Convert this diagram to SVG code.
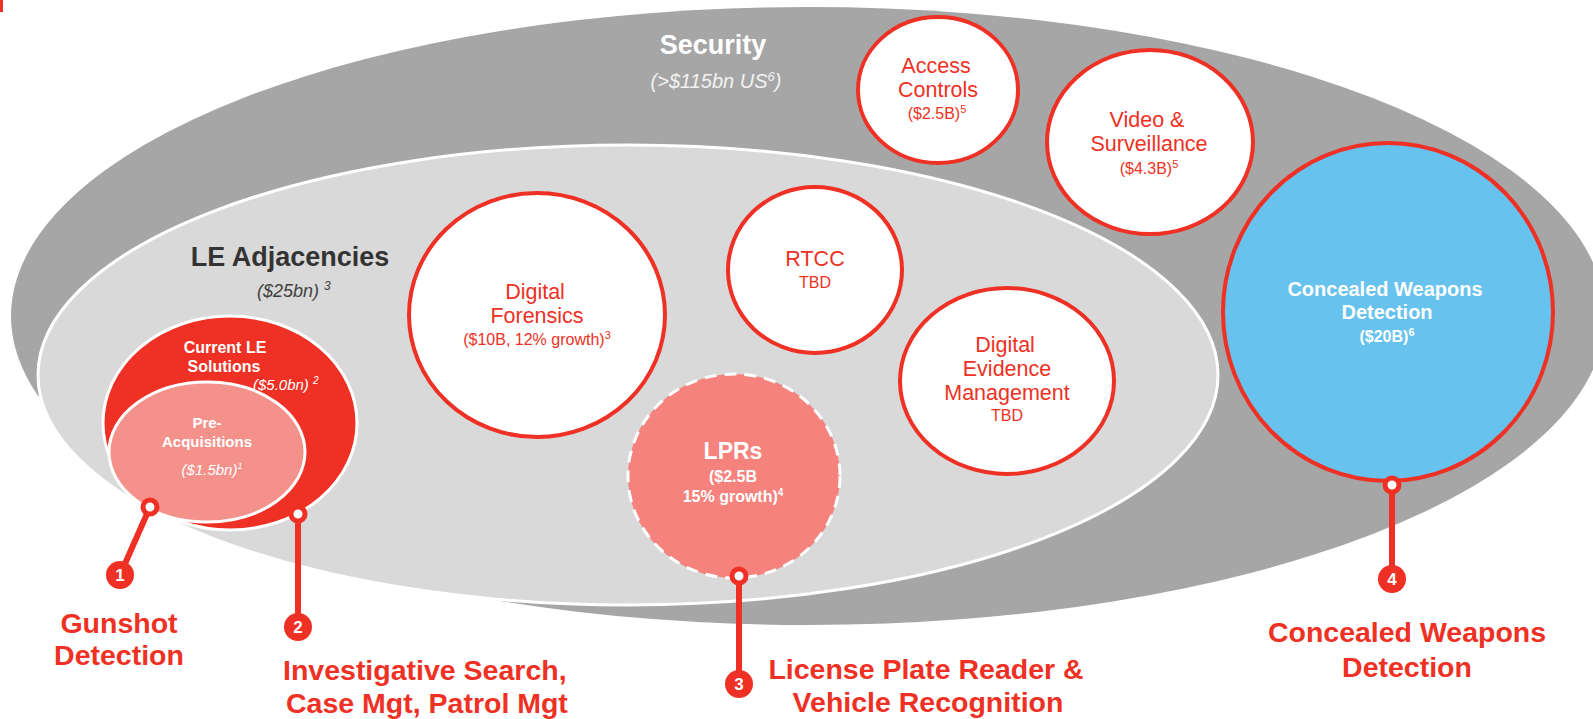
<svg xmlns="http://www.w3.org/2000/svg" width="1593" height="719" viewBox="0 0 1593 719">
<style>
  text { font-family: "Liberation Sans", Arial, sans-serif; }
  .red { fill: #ee3124; }
  .wc { fill: #ffffff; stroke: #ee3124; stroke-width: 4; }
  .big { font-size: 21.5px; fill: #ee3124; text-anchor: middle; }
  .sub { font-size: 16px; fill: #ee3124; text-anchor: middle; }
  .wb { fill: #ffffff; font-weight: bold; text-anchor: middle; }
  .wi { fill: #ffffff; font-style: italic; }
  .lbl { font-size: 28.5px; font-weight: bold; fill: #ee3124; }
  .num { font-size: 17px; font-weight: bold; fill: #ffffff; text-anchor: middle; }
  .ring { fill: #ffffff; stroke: #ee3124; stroke-width: 5; }
  .conn { stroke: #ee3124; stroke-width: 6; fill: none; }
</style>
<rect x="0" y="0" width="1593" height="719" fill="#ffffff"/>
<rect x="0" y="0" width="3" height="12" fill="#ee3124"/>

<g id="security">
  <ellipse cx="808" cy="316" rx="797" ry="309" fill="#a6a6a6"/>
  <text x="713" y="54" text-anchor="middle" font-size="27" font-weight="bold" fill="#ffffff">Security</text>
  <text x="716" y="88" text-anchor="middle" font-size="20" font-style="italic" fill="#f2f2f2">(&gt;$115bn US<tspan font-size="13" dy="-7">6</tspan><tspan dy="7">)</tspan></text>
</g>

<g id="le-adjacencies">
  <ellipse cx="628" cy="375" rx="590" ry="230" fill="#d9d9d9" stroke="#ffffff" stroke-width="3"/>
  <text x="290" y="266" text-anchor="middle" font-size="27" font-weight="bold" fill="#333333">LE Adjacencies</text>
  <text x="257" y="297" font-size="18" font-style="italic" fill="#404040">($25bn) <tspan font-size="12" dy="-7">3</tspan></text>
</g>

<g id="current-le">
  <ellipse cx="230" cy="423" rx="127" ry="107" fill="#ee3124" stroke="#ffffff" stroke-width="3"/>
  <text class="wb" font-size="16"><tspan x="225" y="353">Current LE</tspan><tspan x="224" y="372">Solutions</tspan></text>
  <text x="253" y="390" class="wi" font-size="15">($5.0bn) <tspan font-size="10" dy="-6">2</tspan></text>
</g>

<g id="pre-acquisitions">
  <ellipse cx="207" cy="452" rx="98" ry="70" fill="#f4918a" stroke="#ffffff" stroke-width="3"/>
  <text class="wb" font-size="15"><tspan x="207" y="428">Pre-</tspan><tspan x="207" y="447">Acquisitions</tspan></text>
  <text x="212" y="475" text-anchor="middle" class="wi" font-size="15">($1.5bn)<tspan font-size="9" dy="-6">1</tspan></text>
</g>

<g id="digital-forensics">
  <ellipse cx="537" cy="315" rx="128" ry="122" class="wc"/>
  <text class="big"><tspan x="535" y="299">Digital</tspan><tspan x="537" y="323">Forensics</tspan></text>
  <text x="537" y="345" class="sub">($10B, 12% growth)<tspan font-size="11" dy="-6">3</tspan></text>
</g>

<g id="rtcc">
  <ellipse cx="815" cy="270" rx="87" ry="83" class="wc"/>
  <text x="815" y="266" class="big" font-size="23">RTCC</text>
  <text x="815" y="288" class="sub" font-size="17">TBD</text>
</g>

<g id="access-controls">
  <ellipse cx="938" cy="90" rx="80" ry="73" class="wc"/>
  <text class="big"><tspan x="936" y="73">Access</tspan><tspan x="938" y="97">Controls</tspan></text>
  <text x="937" y="119" class="sub">($2.5B)<tspan font-size="11" dy="-6">5</tspan></text>
</g>

<g id="video-surveillance">
  <ellipse cx="1150" cy="142" rx="103" ry="92" class="wc"/>
  <text class="big"><tspan x="1147" y="127">Video &amp;</tspan><tspan x="1149" y="151">Surveillance</tspan></text>
  <text x="1149" y="174" class="sub">($4.3B)<tspan font-size="11" dy="-6">5</tspan></text>
</g>

<g id="digital-evidence">
  <ellipse cx="1007" cy="381" rx="107" ry="93" class="wc"/>
  <text class="big"><tspan x="1005" y="352">Digital</tspan><tspan x="1007" y="376">Evidence</tspan><tspan x="1007" y="400">Management</tspan></text>
  <text x="1007" y="421" class="sub" font-size="17">TBD</text>
</g>

<g id="lprs">
  <ellipse cx="734" cy="476" rx="106" ry="102" fill="#f5827c" stroke="#ffffff" stroke-width="3" stroke-dasharray="12 8"/>
  <text x="733" y="459" class="wb" font-size="23">LPRs</text>
  <text class="wb" font-size="16"><tspan x="733" y="482">($2.5B</tspan><tspan x="733" y="502">15% growth)</tspan><tspan font-size="10" dy="-6">4</tspan></text>
</g>

<g id="concealed-weapons">
  <ellipse cx="1388" cy="312" rx="165" ry="169" fill="#67c2ee" stroke="#ee3124" stroke-width="4"/>
  <text class="wb" font-size="20"><tspan x="1385" y="296">Concealed Weapons</tspan><tspan x="1387" y="319">Detection</tspan></text>
  <text x="1387" y="342" class="wb" font-size="16">($20B)<tspan font-size="11" dy="-6">6</tspan></text>
</g>

<g id="connectors">
  <line x1="150" y1="507" x2="120" y2="575" class="conn"/>
  <line x1="298" y1="514" x2="298" y2="627" class="conn"/>
  <line x1="739" y1="576" x2="739" y2="684" class="conn"/>
  <line x1="1392" y1="485" x2="1392" y2="579" class="conn"/>
  <circle cx="150" cy="507" r="7" class="ring"/>
  <circle cx="298" cy="514" r="7" class="ring"/>
  <circle cx="739" cy="576" r="7" class="ring"/>
  <circle cx="1392" cy="485" r="7" class="ring"/>
</g>

<g id="marker-1">
  <circle cx="120" cy="575" r="14" class="red"/>
  <text x="120" y="581" class="num">1</text>
  <text class="lbl" text-anchor="middle"><tspan x="119" y="633">Gunshot</tspan><tspan x="119" y="665">Detection</tspan></text>
</g>

<g id="marker-2">
  <circle cx="298" cy="627" r="14" class="red"/>
  <text x="298" y="633" class="num">2</text>
  <text class="lbl"><tspan x="283" y="680">Investigative Search,</tspan><tspan x="286" y="713">Case Mgt, Patrol Mgt</tspan></text>
</g>

<g id="marker-3">
  <circle cx="739" cy="684" r="14" class="red"/>
  <text x="739" y="690" class="num">3</text>
  <text class="lbl" text-anchor="middle"><tspan x="926" y="679">License Plate Reader &amp;</tspan><tspan x="928" y="712">Vehicle Recognition</tspan></text>
</g>

<g id="marker-4">
  <circle cx="1392" cy="579" r="14" class="red"/>
  <text x="1392" y="585" class="num">4</text>
  <text class="lbl" text-anchor="middle"><tspan x="1407" y="642">Concealed Weapons</tspan><tspan x="1407" y="677">Detection</tspan></text>
</g>
</svg>
